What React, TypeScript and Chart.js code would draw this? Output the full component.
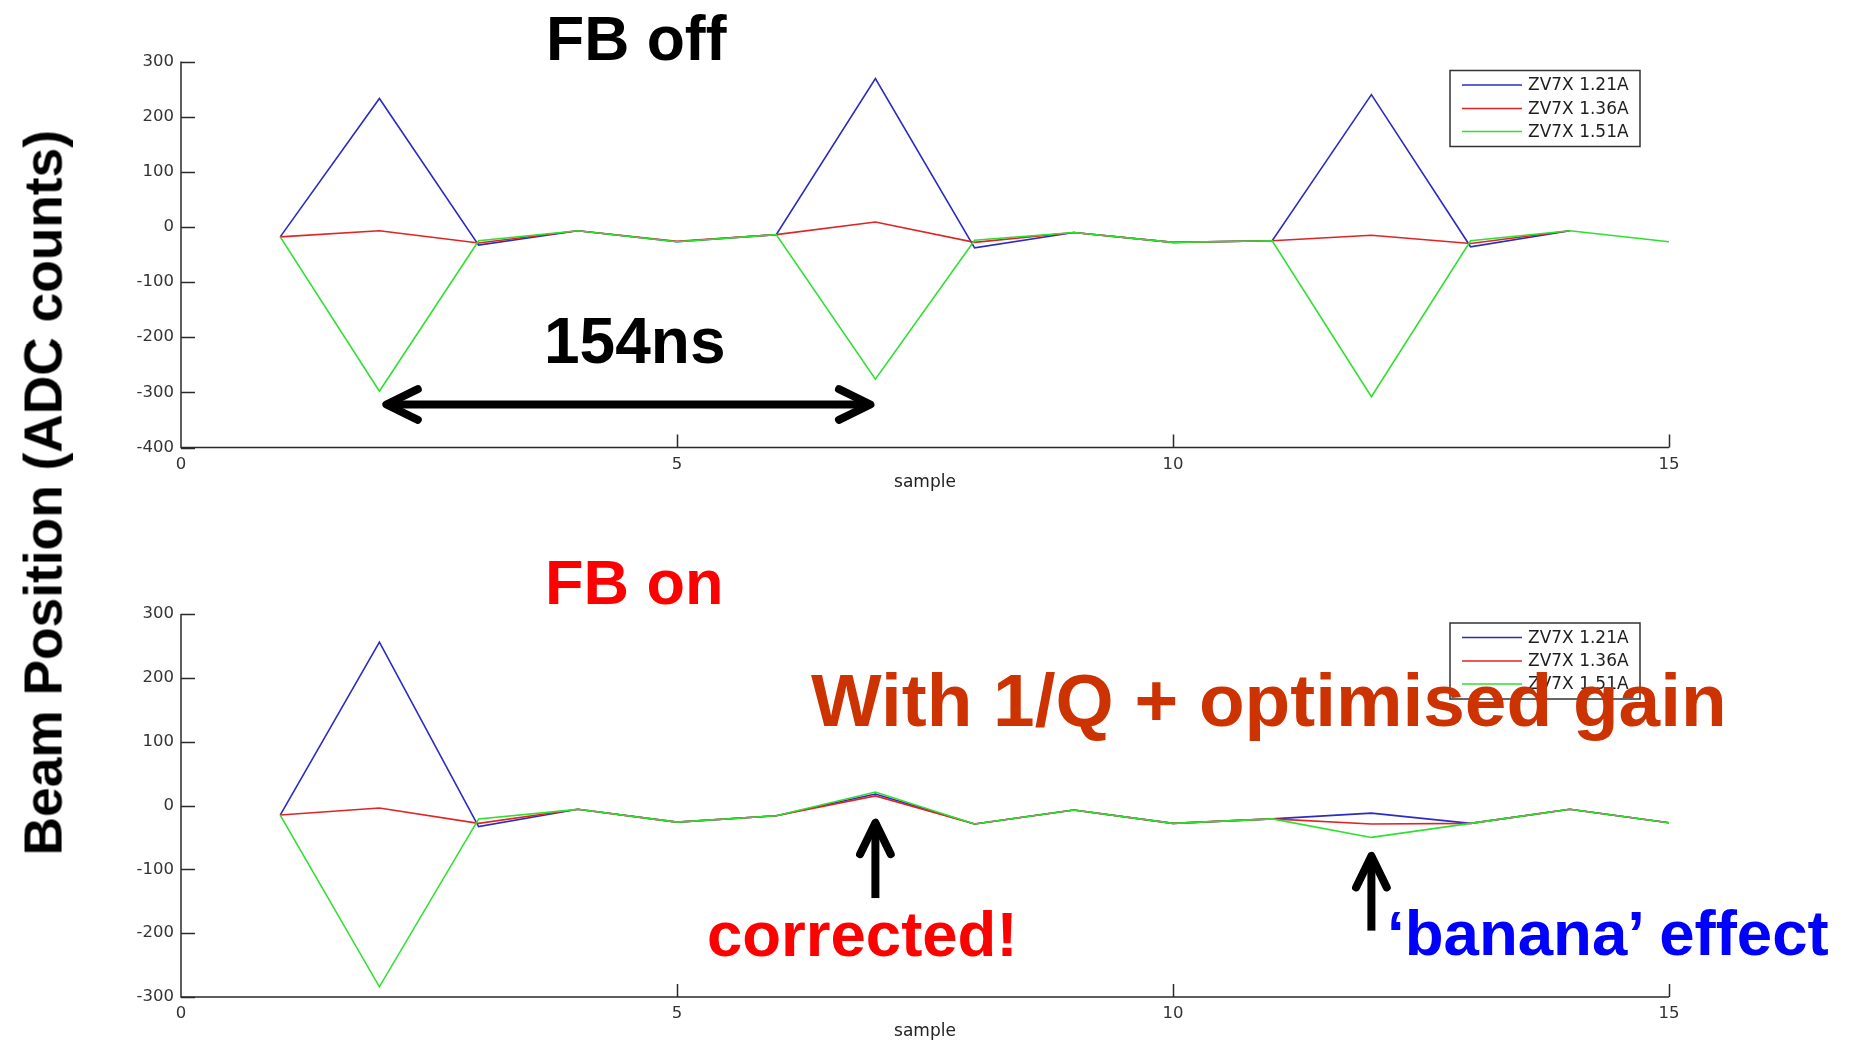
import React, { useEffect, useRef } from "react";
import { Chart, registerables } from "chart.js";

Chart.register(...registerables);

// Sample index along the x axis
const samplesOff = [1, 2, 3, 4, 5, 6, 7, 8, 9, 10, 11, 12, 13, 14, 15];
const samplesOn = [1, 2, 3, 4, 5, 6, 7, 8, 9, 10, 11, 12, 13, 14, 15];

// Feedback off: beam position per sample (ADC counts)
const offZV7X121 = [-18, 233, -33, -7, -27, -14, 269, -38, -10, -28, -25, 240, -36, -7];
const offZV7X136 = [-18, -7, -29, -7, -26, -14, 9, -28, -10, -28, -25, -15, -30, -7];
const offZV7X151 = [-18, -298, -25, -7, -27, -14, -276, -24, -10, -28, -25, -308, -25, -7, -27];

// Feedback on
const onZV7X121 = [-15, 256, -33, -6, -26, -16, 18, -29, -7, -28, -21, -12, -28, -6, -27];
const onZV7X136 = [-15, -4, -28, -6, -26, -16, 15, -29, -7, -28, -21, -29, -28, -6, -27];
const onZV7X151 = [-15, -284, -21, -6, -26, -16, 21, -29, -7, -28, -21, -50, -28, -6, -27];

const seriesNames = ["ZV7X 1.21A", "ZV7X 1.36A", "ZV7X 1.51A"];
const seriesColors = ["#2b2bc4", "#e02424", "#2fe02f"];

const xTicks = { min: 0, max: 15, step: 5 };
const yTicksOff = { min: -400, max: 300, step: 100 };
const yTicksOn = { min: -300, max: 300, step: 100 };

// Arrow annotations in data units
const offArrows = [{ x1: 2.07, y1: -322, x2: 6.95, y2: -322, both: true }];
const onArrows = [
  { x1: 7, y1: -145, x2: 7, y2: -27, both: false },
  { x1: 12, y1: -196, x2: 12, y2: -79, both: false },
];

const TICK_FONT = '"DejaVu Sans", sans-serif';
const AXIS_COLOR = "#2a2a2a";

function toPoints(xs: number[], ys: number[]) {
  return ys.map((y, i) => ({ x: xs[i], y }));
}

function drawArrow(
  ctx: CanvasRenderingContext2D,
  x1: number,
  y1: number,
  x2: number,
  y2: number,
  both: boolean
) {
  ctx.save();
  ctx.strokeStyle = "#000";
  ctx.lineWidth = 8;
  ctx.lineCap = "butt";
  ctx.beginPath();
  ctx.moveTo(x1, y1);
  ctx.lineTo(x2, y2);
  ctx.stroke();
  ctx.lineCap = "round";
  ctx.lineJoin = "round";
  const head = (tx: number, ty: number, fx: number, fy: number) => {
    const a = Math.atan2(ty - fy, tx - fx);
    const L = 35;
    const h = (26 * Math.PI) / 180;
    ctx.beginPath();
    ctx.moveTo(tx - L * Math.cos(a - h), ty - L * Math.sin(a - h));
    ctx.lineTo(tx, ty);
    ctx.lineTo(tx - L * Math.cos(a + h), ty - L * Math.sin(a + h));
    ctx.stroke();
  };
  head(x2, y2, x1, y1);
  if (both) head(x1, y1, x2, y2);
  ctx.restore();
}

// MATLAB-style axes: left/bottom lines, inward ticks, boxed legend, arrows
const matlabDecor = {
  id: "matlabDecor",
  afterDraw(chart: any, _args: any, opts: any) {
    const { ctx, chartArea } = chart;
    const { left, right, top, bottom } = chartArea;
    const xs = chart.scales.x;
    const ys = chart.scales.y;
    ctx.save();
    ctx.strokeStyle = AXIS_COLOR;
    ctx.lineWidth = 1.5;
    ctx.beginPath();
    ctx.moveTo(left, top);
    ctx.lineTo(left, bottom);
    ctx.lineTo(right, bottom);
    ctx.stroke();
    ctx.beginPath();
    ys.ticks.forEach((t: any) => {
      const py = Math.round(ys.getPixelForValue(t.value)) + 0.5;
      ctx.moveTo(left, py);
      ctx.lineTo(left + 14, py);
    });
    xs.ticks.forEach((t: any) => {
      if (t.value === xs.min) return;
      const px = Math.round(xs.getPixelForValue(t.value)) + 0.5;
      ctx.moveTo(px, bottom);
      ctx.lineTo(px, bottom - 13);
    });
    ctx.stroke();

    // x axis title
    ctx.fillStyle = "#222";
    ctx.font = `17px ${TICK_FONT}`;
    ctx.textAlign = "center";
    ctx.textBaseline = "middle";
    ctx.fillText("sample", (left + right) / 2, bottom + 35);

    // legend box
    const bx = right - 219;
    const by = top + 9;
    const bw = 190;
    const bh = 76;
    ctx.fillStyle = "#fff";
    ctx.fillRect(bx, by, bw, bh);
    ctx.strokeStyle = "#333";
    ctx.lineWidth = 1.5;
    ctx.strokeRect(bx, by, bw, bh);
    const rows = [14.5, 38, 61];
    ctx.font = `17px ${TICK_FONT}`;
    ctx.textAlign = "left";
    ctx.textBaseline = "middle";
    chart.data.datasets.forEach((ds: any, i: number) => {
      const ry = by + rows[i];
      ctx.strokeStyle = ds.borderColor;
      ctx.lineWidth = 1.6;
      ctx.beginPath();
      ctx.moveTo(bx + 12, ry);
      ctx.lineTo(bx + 72, ry);
      ctx.stroke();
      ctx.fillStyle = "#1e1e1e";
      ctx.fillText(ds.label, bx + 78, ry + 1);
    });
    ctx.restore();

    (opts.arrows || []).forEach((a: any) => {
      drawArrow(
        ctx,
        xs.getPixelForValue(a.x1),
        ys.getPixelForValue(a.y1),
        xs.getPixelForValue(a.x2),
        ys.getPixelForValue(a.y2),
        a.both
      );
    });
  },
};

function makeConfig(
  series: number[][],
  samples: number[],
  yRange: { min: number; max: number; step: number },
  padding: { left: number; right: number; top: number; bottom: number },
  arrows: any[]
): any {
  const order = [2, 1, 0];
  return {
    type: "line",
    data: {
      datasets: series.map((ys, i) => ({
        label: seriesNames[i],
        data: toPoints(samples, ys),
        borderColor: seriesColors[i],
        backgroundColor: seriesColors[i],
        borderWidth: 1.6,
        pointRadius: 0,
        tension: 0,
        fill: false,
        order: order[i],
      })),
    },
    options: {
      animation: false,
      responsive: false,
      maintainAspectRatio: false,
      devicePixelRatio: 1,
      layout: { padding },
      plugins: {
        legend: { display: false },
        tooltip: { enabled: false },
        matlabDecor: { arrows },
      },
      scales: {
        x: {
          type: "linear",
          min: xTicks.min,
          max: xTicks.max,
          ticks: {
            stepSize: xTicks.step,
            font: { family: TICK_FONT, size: 16.5 },
            color: "#333",
            padding: 7,
            maxRotation: 0,
          },
          grid: { display: false, drawTicks: false },
          border: { display: false },
          afterFit: (s: any) => {
            s.height = 40;
          },
        },
        y: {
          type: "linear",
          min: yRange.min,
          max: yRange.max,
          ticks: {
            stepSize: yRange.step,
            font: { family: TICK_FONT, size: 16.5 },
            color: "#333",
            padding: 7,
          },
          grid: { display: false, drawTicks: false },
          border: { display: false },
          afterFit: (s: any) => {
            s.width = 60;
          },
        },
      },
    },
    plugins: [matlabDecor],
  };
}

function LineChart(props: {
  top: number;
  height: number;
  config: any;
}) {
  const ref = useRef<HTMLCanvasElement | null>(null);
  useEffect(() => {
    if (!ref.current) return;
    const chart = new Chart(ref.current, props.config);
    return () => chart.destroy();
  }, []);
  return (
    <canvas
      ref={ref}
      width={1852}
      height={props.height}
      style={{ position: "absolute", left: 0, top: props.top, width: 1852, height: props.height }}
    />
  );
}

function Caption(props: {
  text: string;
  x: number;
  baseline: number;
  size: number;
  color: string;
  vertical?: boolean;
}) {
  const off = 0.3465 * props.size;
  return (
    <span
      style={{
        position: "absolute",
        left: props.x,
        top: props.baseline - off,
        font: `bold ${props.size}px "Liberation Sans", Arial, sans-serif`,
        lineHeight: 0,
        whiteSpace: "nowrap",
        color: props.color,
        transformOrigin: `0px ${off}px`,
        transform: props.vertical ? "rotate(-90deg)" : undefined,
      }}
    >
      {props.text}
    </span>
  );
}

export default function App() {
  const topCfg = makeConfig(
    [offZV7X121, offZV7X136, offZV7X151],
    samplesOff,
    yTicksOff,
    { left: 121, right: 183, top: 61.5, bottom: 32.5 },
    offArrows
  );
  const bottomCfg = makeConfig(
    [onZV7X121, onZV7X136, onZV7X151],
    samplesOn,
    yTicksOn,
    { left: 121, right: 183, top: 74, bottom: 3 },
    onArrows
  );
  return (
    <div
      style={{
        position: "fixed",
        left: 0,
        top: 0,
        width: 1852,
        height: 1040,
        background: "#fff",
        overflow: "hidden",
      }}
    >
      <LineChart top={0} height={520} config={topCfg} />
      <LineChart top={540} height={500} config={bottomCfg} />
      <Caption text="Beam Position (ADC counts)" x={61.5} baseline={855} size={53.3} color="#000" vertical />
      <Caption text="FB off" x={546} baseline={60} size={62.5} color="#000" />
      <Caption text="154ns" x={544} baseline={363} size={64} color="#000" />
      <Caption text="FB on" x={545} baseline={604} size={63} color="#ff0000" />
      <Caption text="With 1/Q + optimised gain" x={811} baseline={726} size={74.8} color="#cc3300" />
      <Caption text="corrected!" x={707} baseline={956} size={63.5} color="#ff0000" />
      <Caption text={"\u2018banana\u2019 effect"} x={1387} baseline={955} size={63.6} color="#0000ff" />
    </div>
  );
}
